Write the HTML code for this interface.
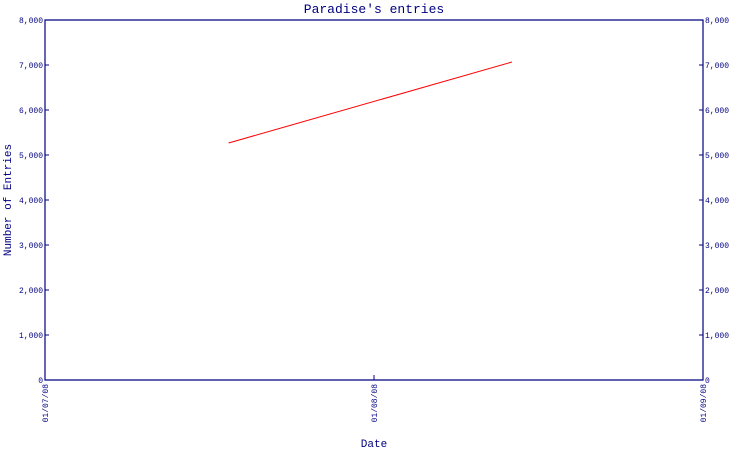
<!DOCTYPE html>
<html><head><meta charset="utf-8"><style>
body{margin:0;background:#fff;width:750px;height:450px;overflow:hidden}
text{font-family:"Liberation Mono",monospace;fill:#000080}
</style></head><body>
<svg id="chart" width="750" height="450" xmlns="http://www.w3.org/2000/svg">
<text x="374" y="13" font-size="13" text-anchor="middle">Paradise's entries</text>
<text transform="translate(11,200) rotate(-90)" font-size="11" text-anchor="middle">Number of Entries</text>
<text x="374" y="447" font-size="11" text-anchor="middle">Date</text>
<g id="axes"></g>
<g id="series"></g>
</svg>
<script>
const yTicks=[0,1000,2000,3000,4000,5000,6000,7000,8000];
const xTickDays=[0,31,62];
const xTickLabels=["01/07/08","01/08/08","01/09/08"];
const seriesDays=[17.3,44.0];
const seriesValues=[5267,7067];
const L=45,R=703,T=20,B=380;
const xS=d=>L+(d-0)/(62-0)*(R-L);
const yS=v=>B-v/8000*(B-T);
const ns="http://www.w3.org/2000/svg";
const ax=document.getElementById('axes'),se=document.getElementById('series');
function mk(tag,attrs,parent){const e=document.createElementNS(ns,tag);for(const k in attrs)e.setAttribute(k,attrs[k]);parent.appendChild(e);return e;}
const frame=mk('path',{d:`M${L},${T}V${B}H${R}V${T}Z`,fill:'none',stroke:'#000080','stroke-width':1.2},ax);


yTicks.forEach(v=>{
 const y=yS(v);
 const lab=v===0?'0':(v/1000)+','+'000';
 const t1=mk('text',{x:L-2,y:y+3,'font-size':8,'text-anchor':'end'},ax);t1.textContent=lab;
 
 
 const t2=mk('text',{x:R+2,y:y+3,'font-size':8,'text-anchor':'start'},ax);t2.textContent=lab;
 
 
 const tk=mk('line',{x1:L,x2:L+4,y1:y,y2:y,stroke:'#000080'},ax);
 
 
 const tk2=mk('line',{x1:R-4,x2:R,y1:y,y2:y,stroke:'#000080'},ax);
 
 
});
xTickDays.forEach((d,i)=>{
 const x=xS(d);
 const tk=mk('line',{x1:x,x2:x,y1:B-5,y2:B,stroke:'#000080'},ax);
 
 
 const t=mk('text',{transform:`translate(${x+3},${B+4}) rotate(-90)`,'font-size':8,'text-anchor':'end'},ax);
 t.textContent=xTickLabels[i];
 
 
});
const pts=seriesDays.map((d,i)=>xS(d)+','+yS(seriesValues[i])).join(' ');
const line=mk('polyline',{points:pts,fill:'none',stroke:'#ff0000','stroke-width':1},se);


</script>
</body></html>
